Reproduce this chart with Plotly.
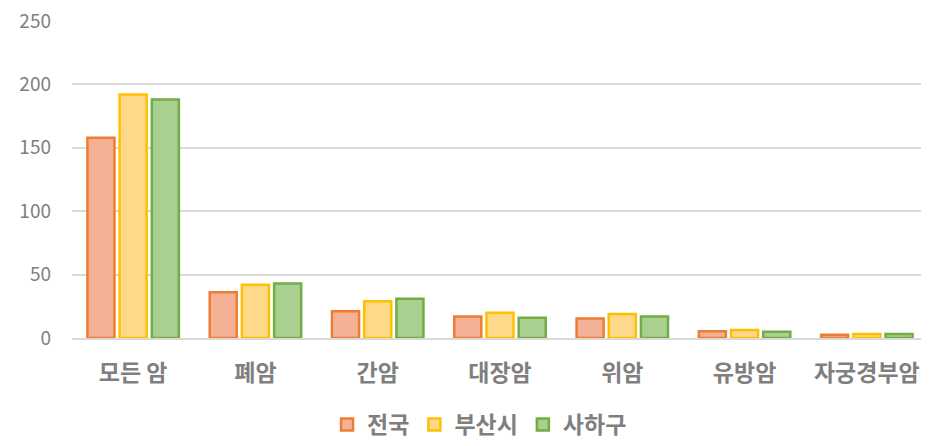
import plotly.graph_objects as go

categories = ["모든 암", "폐암", "간암", "대장암", "위암", "유방암", "자궁경부암"]
series_names = ["전국", "부산시", "사하구"]
national = [158, 36, 21, 17, 15.3, 5.3, 2.5]
busan = [192, 42, 29, 20, 19, 6.3, 3.2]
saha = [188, 43, 31, 16, 17, 5, 3.2]
y_ticks = [0, 50, 100, 150, 200, 250]

fills = ["#F5B196", "#FFD88A", "#A9D08E"]
lines = ["#ED7D31", "#FFC000", "#70AD47"]

fig = go.Figure()
for name, vals, fc, lc in zip(series_names, [national, busan, saha], fills, lines):
    fig.add_trace(go.Bar(
        x=categories, y=vals, name=name,
        marker=dict(color=fc, line=dict(color=lc, width=2.5)),
    ))

font_family = "Noto Sans CJK KR, Noto Sans, sans-serif"
txt = "#7F7F7F"
fig.update_layout(
    width=921, height=438,
    margin=dict(l=64, r=1, t=13, b=108, autoexpand=False),
    plot_bgcolor="white", paper_bgcolor="white",
    barmode="group", bargap=0.21, bargroupgap=0.16,
    font=dict(family=font_family, color=txt),
    showlegend=True,
    legend=dict(orientation="h", xref="container", yref="container",
                x=0.512, xanchor="center", y=0.0, yanchor="bottom",
                font=dict(size=23, color=txt, weight="bold"),
                traceorder="normal"),
    xaxis=dict(showgrid=False, showline=True, linecolor="#D9D9D9", linewidth=2,
               tickfont=dict(size=23, color=txt, weight="bold"), ticks="",
               ticklabelstandoff=13),
    yaxis=dict(range=[0, 250], tickvals=y_ticks, showgrid=True,
               gridcolor="#D9D9D9", gridwidth=2, zeroline=False,
               showline=False, tickfont=dict(size=19, color=txt),
               ticklabelstandoff=20, ticklabeloverflow="allow"),
)
fig.write_html("out.html")
